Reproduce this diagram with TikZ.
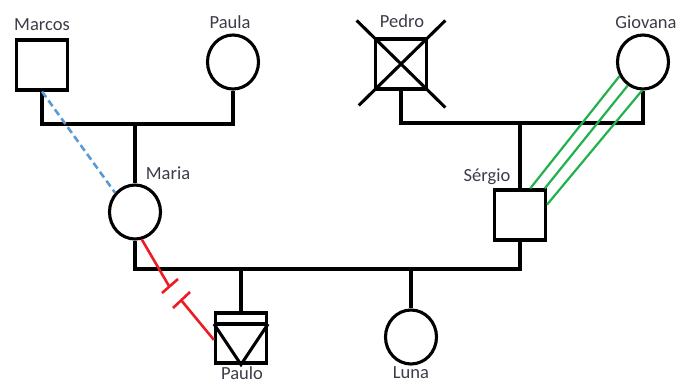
\documentclass[tikz,border=0pt]{standalone}
\usepackage{fontspec}
\setmainfont{Carlito}
\usetikzlibrary{shapes.geometric,calc}
\definecolor{txtgray}{RGB}{60,60,72}
\definecolor{pgreen}{RGB}{34,177,76}
\definecolor{pred}{RGB}{237,28,36}
\definecolor{pblue}{RGB}{91,155,213}
\begin{document}
\begin{tikzpicture}[x=1pt,y=-1pt,
  line width=3.1pt,
  male/.style={draw,rectangle,minimum width=51pt,minimum height=50pt,inner sep=0pt},
  female/.style={draw,ellipse,minimum width=51pt,minimum height=54pt,inner sep=0pt},
  pname/.style={text=txtgray,font=\fontsize{18.5}{20}\selectfont,inner sep=0pt},
  link/.style={draw,line width=3.1pt},
]
\useasboundingbox (0,0) rectangle (678,384);
% persons
\node[male] (marcos) at (42,65) {};
\node[female] (paula) at (233,62) {};
\node[male] (pedro) at (401,64) {};
\node[female] (giovana) at (643,62) {};
\node[female] (maria) at (135,212) {};
\node[male] (sergio) at (520,215) {};
\node[male] (paulo) at (241,338) {};
\node[female] (luna) at (411,337) {};
% names
\node[pname] (tmarcos) at (42,25) {Marcos};
\node[pname] (tpaula) at (230,22) {Paula};
\node[pname] (tpedro) at (402,21) {Pedro};
\node[pname] (tgiovana) at (646,22) {Giovana};
\node[pname] (tmaria) at (168,173) {Maria};
\node[pname] (tsergio) at (487,177) {Sérgio};
\node[pname] (tpaulo) at (242,373) {Paulo};
\node[pname] (tluna) at (411,373) {Luna};
% junctions
\coordinate (c1) at (135,124);
\coordinate (c2) at (520,123);
\coordinate (c3) at (411,269);
\coordinate (c4) at (241,269);
% family lines
\draw[link] (marcos.south) |- (c1) -| (paula.south);
\draw[link] (c1) -- (maria.north);
\draw[link] (pedro.south) |- (c2) -| (giovana.south);
\draw[link] (c2) -- (sergio.north);
\draw[link] (maria.south) |- (c3) -| (sergio.south);
\draw[link] (c3) -- (luna.north);
\draw[link] (c4) -- (paulo.north);
% Pedro deceased cross
\draw[link] ($(pedro.north west)!-0.32!(pedro.south east)$) -- ($(pedro.south east)!-0.32!(pedro.north west)$);
\draw[link] ($(pedro.north east)!-0.32!(pedro.south west)$) -- ($(pedro.south west)!-0.28!(pedro.north east)$);
% Paulo inner symbol
\coordinate (pl) at ($(paulo.west)+(0,-14)$);
\coordinate (pr) at ($(paulo.east)+(0,-14)$);
\draw[link] (pl) -- (pr);
\draw[link,line join=miter] (pl) -- (paulo.south) -- (pr);
% relationship lines
\draw[pblue,line width=2.6pt,dash pattern=on 7pt off 4pt] (marcos.south) -- (maria.136);
\coordinate (r1) at (169,286);
\coordinate (r2) at (181,300);
\draw[pred,line width=2.6pt] (maria.284) -- (r1);
\draw[pred,line width=2.6pt] (r2) -- (paulo.184);
\draw[pred,line width=2.6pt] ($(r1)+(-7,7)$) -- ($(r1)+(9,-7)$);
\draw[pred,line width=2.6pt] ($(r2)+(-8,8)$) -- ($(r2)+(9,-8)$);
\draw[pgreen,line width=2.2pt] (giovana.211) -- (sergio.69);
\draw[pgreen,line width=2.2pt] (giovana.237) -- (sergio.47);
\draw[pgreen,line width=2.2pt] (giovana.268) -- (sergio.21);
\end{tikzpicture}
\end{document}
